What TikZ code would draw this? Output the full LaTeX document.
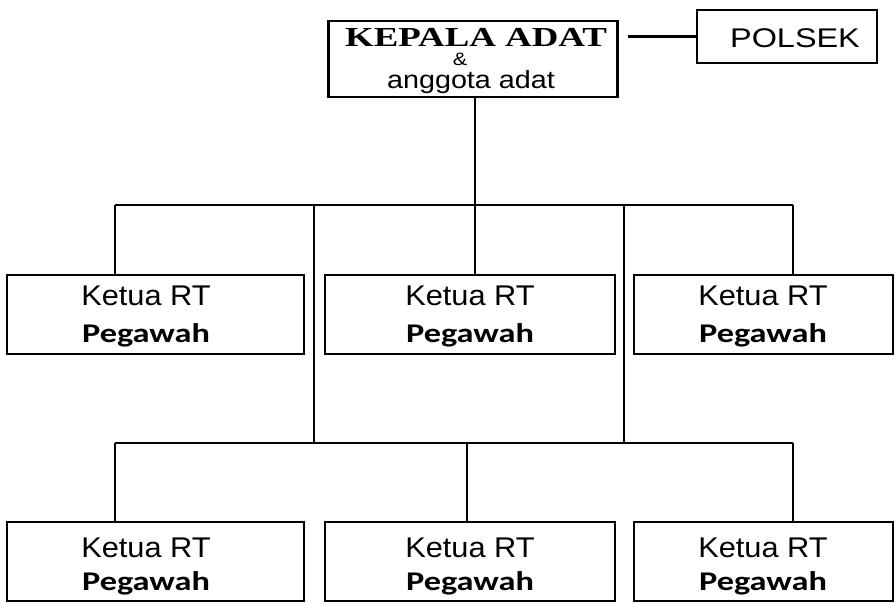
\documentclass[tikz,border=0pt]{standalone}
\usepackage{fontspec}
\setmainfont{Liberation Sans}
\newfontfamily\serifbf{Liberation Serif}
\newfontfamily\calib{Carlito}
\newcommand\ktxt{\scalebox{1.08}[1]{\fontsize{28.5}{30}\selectfont Ketua RT}}
\newcommand\ptxt{\scalebox{1.27}[1]{\fontsize{27}{28}\selectfont\calib\bfseries Pegawah}}
\begin{document}
\begin{tikzpicture}[x=1pt,y=-1pt,
  box/.style={draw, line width=2.5pt, inner sep=0pt, minimum height=79pt},
  ln/.style={line width=2.8pt},
  txt/.style={anchor=base, inner sep=0pt}]
\useasboundingbox (0,0) rectangle (896,603);
% top
\node[box, minimum width=289pt, minimum height=76pt] (kepala) at (473,59) {};
\node[box, minimum width=180pt, minimum height=53pt] (polsek) at (787,36.5) {};
\node[txt] (kt) at (476,46) {\scalebox{1.34}[1]{\fontsize{27.5}{29}\selectfont\serifbf\bfseries KEPALA ADAT}};
\node[txt] (amp) at (460,65.5) {\scalebox{1.2}[1]{\fontsize{18}{19}\selectfont \&}};
\node[txt] (ang) at (471,88.5) {\scalebox{1.15}[1]{\fontsize{25}{27}\selectfont anggota adat}};
\node[txt] (pt) at (795,47) {\scalebox{1.2}[1]{\fontsize{27}{28}\selectfont POLSEK}};
% upper row
\node[box, minimum width=297pt] (u1) at (155.5,314.5) {};
\node[box, minimum width=290pt] (u2) at (470,314.5) {};
\node[box, minimum width=259pt] (u3) at (763.5,314.5) {};
\node[txt] (u1a) at (146,305) {\ktxt};
\node[txt] (u1b) at (146,342) {\ptxt};
\node[txt] (u2a) at (470,305) {\ktxt};
\node[txt] (u2b) at (470,342) {\ptxt};
\node[txt] (u3a) at (763,305) {\ktxt};
\node[txt] (u3b) at (763,342) {\ptxt};
% lower row
\node[box, minimum width=297pt] (l1) at (155.5,561.5) {};
\node[box, minimum width=290pt] (l2) at (470,561.5) {};
\node[box, minimum width=259pt] (l3) at (763.5,561.5) {};
\node[txt] (l1a) at (146,557) {\ktxt};
\node[txt] (l1b) at (146,590) {\ptxt};
\node[txt] (l2a) at (470,557) {\ktxt};
\node[txt] (l2b) at (470,590) {\ptxt};
\node[txt] (l3a) at (763,557) {\ktxt};
\node[txt] (l3b) at (763,590) {\ptxt};
% connectors
\coordinate (b0) at (475,205);
\coordinate (bl) at (115,205);
\coordinate (br) at (793,205);
\coordinate (vl) at (314,205);
\coordinate (vr) at (624,205);
\coordinate (cl) at (115,443);
\coordinate (cr) at (793,443);
\coordinate (cm) at (467,443);
\draw[ln, shorten <=9pt] (polsek.west -| kepala.east) -- (polsek.west);
\draw[ln] (b0 |- kepala.south) -- (b0);
\draw[ln] (bl) -- (br);
\draw[ln] (bl) -- (bl |- u1.north);
\draw[ln] (b0) -- (b0 |- u2.north);
\draw[ln] (br) -- (br |- u3.north);
\draw[ln] (vl) -- (vl |- cl);
\draw[ln] (vr) -- (vr |- cr);
\draw[ln] (cl) -- (cr);
\draw[ln] (cl) -- (cl |- l1.north);
\draw[ln] (cm) -- (cm |- l2.north);
\draw[ln] (cr) -- (cr |- l3.north);
\end{tikzpicture}
\end{document}
